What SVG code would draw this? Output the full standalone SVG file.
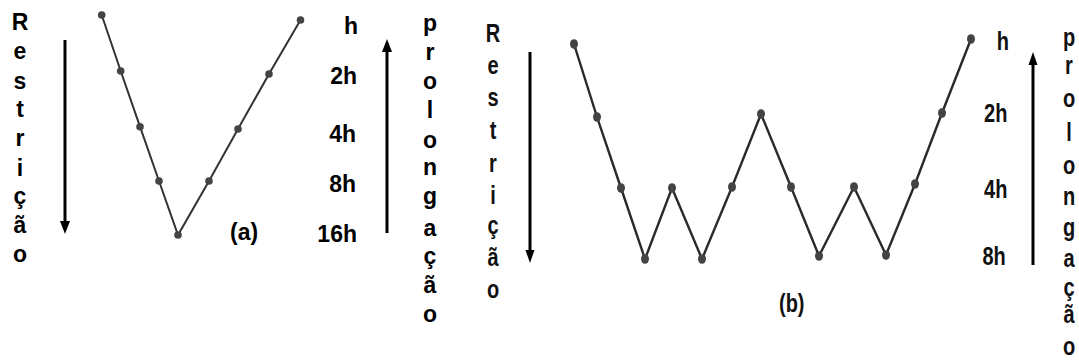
<svg xmlns="http://www.w3.org/2000/svg" width="1079" height="362" viewBox="0 0 1079 362">
<style>
.t{font-family:"Liberation Sans",Arial,sans-serif;font-weight:bold;font-size:23px;fill:#000}
.tb{font-family:"Liberation Sans",Arial,sans-serif;font-weight:bold;font-size:25px;fill:#111}
.ln{fill:none;stroke:#333;stroke-width:2}
.lnb{fill:none;stroke:#2a2a2a;stroke-width:2.4}
.da{fill:#444}
.ar{stroke:#000;stroke-width:3;fill:none}
</style>
<rect width="1079" height="362" fill="#fff"/>

<g id="connectors">
<polyline class="ln" points="101.7,15 120.7,71 140,126.7 159,181 178,235 209,181 238,129 269,74 300.5,20"/>
<polyline class="lnb" points="574,44 597,117 621,188 645,259 672,188 702,259 732,187 761,114 791,187 819,256 854,187 886,255 915,184 942,113 971,39"/>
<g id="arrows">
<line class="ar" x1="65" y1="40" x2="65" y2="222"/>
<path d="M60,221 L70,221 L65,234 Z" fill="#000"/>
<line class="ar" x1="387" y1="233" x2="387" y2="50"/>
<path d="M382,52 L392,52 L387,39 Z" fill="#000"/>
<line class="ar" x1="530" y1="52" x2="530" y2="252"/>
<path d="M525.5,250 L534.5,250 L530,263 Z" fill="#000"/>
<line class="ar" x1="1033" y1="265" x2="1033" y2="63"/>
<path d="M1028.5,65 L1037.5,65 L1033,52 Z" fill="#000"/>
</g>
</g>

<g id="panel-a-dots" class="da">
<circle id="a1" cx="101.7" cy="15" r="3.8"/>
<circle id="a2" cx="120.7" cy="71" r="3.8"/>
<circle id="a3" cx="140" cy="126.7" r="3.8"/>
<circle id="a4" cx="159" cy="181" r="3.8"/>
<circle id="a5" cx="178" cy="235" r="3.8"/>
<circle id="a6" cx="209" cy="181" r="3.8"/>
<circle id="a7" cx="238" cy="129" r="3.8"/>
<circle id="a8" cx="269" cy="74" r="3.8"/>
<circle id="a9" cx="300.5" cy="20" r="3.8"/>
</g>

<g id="panel-b-dots" class="da">
<ellipse id="b1" cx="574" cy="44" rx="4" ry="4.8"/>
<ellipse id="b2" cx="597" cy="117" rx="4" ry="4.8"/>
<ellipse id="b3" cx="621" cy="188" rx="4" ry="4.8"/>
<ellipse id="b4" cx="645" cy="259" rx="4" ry="4.8"/>
<ellipse id="b5" cx="672" cy="188" rx="4" ry="4.8"/>
<ellipse id="b6" cx="702" cy="259" rx="4" ry="4.8"/>
<ellipse id="b7" cx="732" cy="187" rx="4" ry="4.8"/>
<ellipse id="b8" cx="761" cy="114" rx="4" ry="4.8"/>
<ellipse id="b9" cx="791" cy="187" rx="4" ry="4.8"/>
<ellipse id="b10" cx="819" cy="256" rx="4" ry="4.8"/>
<ellipse id="b11" cx="854" cy="187" rx="4" ry="4.8"/>
<ellipse id="b12" cx="886" cy="255" rx="4" ry="4.8"/>
<ellipse id="b13" cx="915" cy="184" rx="4" ry="4.8"/>
<ellipse id="b14" cx="942" cy="113" rx="4" ry="4.8"/>
<ellipse id="b15" cx="971" cy="39" rx="4" ry="4.8"/>
</g>

<g id="label-a-restricao">
<text class="t" text-anchor="middle"><tspan x="20" y="30">R</tspan><tspan x="20" y="59">e</tspan><tspan x="20" y="89">s</tspan><tspan x="20" y="117">t</tspan><tspan x="20" y="146">r</tspan><tspan x="20" y="176">i</tspan><tspan x="20" y="204">ç</tspan><tspan x="20" y="233">ã</tspan><tspan x="20" y="262">o</tspan></text>
</g>
<g id="label-a-prolongacao">
<text class="t" text-anchor="middle"><tspan x="430" y="31">p</tspan><tspan x="430" y="60">r</tspan><tspan x="430" y="89">o</tspan><tspan x="430" y="118">l</tspan><tspan x="430" y="148">o</tspan><tspan x="430" y="175">n</tspan><tspan x="430" y="204">g</tspan><tspan x="430" y="236">a</tspan><tspan x="430" y="264">ç</tspan><tspan x="430" y="293">ã</tspan><tspan x="430" y="322">o</tspan></text>
</g>
<g id="label-a-scale">
<text class="t" text-anchor="end"><tspan x="358" y="34">h</tspan><tspan x="357" y="84">2h</tspan><tspan x="356" y="142">4h</tspan><tspan x="356" y="192">8h</tspan><tspan x="357" y="242">16h</tspan></text>
</g>
<g id="label-a">
<text class="t" x="230" y="240">(a)</text>
</g>

<g id="label-b-restricao" transform="translate(493 0) scale(0.8 1)">
<text class="tb" text-anchor="middle"><tspan x="0" y="42">R</tspan><tspan x="0" y="74">e</tspan><tspan x="0" y="106">s</tspan><tspan x="0" y="139">t</tspan><tspan x="0" y="172">r</tspan><tspan x="0" y="204">i</tspan><tspan x="0" y="234">ç</tspan><tspan x="0" y="266">ã</tspan><tspan x="0" y="298">o</tspan></text>
</g>
<g id="label-b-prolongacao" transform="translate(1069 0) scale(0.8 1)">
<text class="tb" text-anchor="middle"><tspan x="0" y="46">p</tspan><tspan x="0" y="74">r</tspan><tspan x="0" y="107">o</tspan><tspan x="0" y="141">l</tspan><tspan x="0" y="174">o</tspan><tspan x="0" y="205">n</tspan><tspan x="0" y="236">g</tspan><tspan x="0" y="267">a</tspan><tspan x="0" y="296">ç</tspan><tspan x="0" y="323">ã</tspan><tspan x="0" y="355">o</tspan></text>
</g>
<g id="label-b-scale" transform="translate(1009 0) scale(0.8 1)">
<text class="tb" text-anchor="end"><tspan x="0" y="50">h</tspan><tspan x="-2" y="122">2h</tspan><tspan x="-2" y="198">4h</tspan><tspan x="-4" y="265">8h</tspan></text>
</g>
<g id="label-b" transform="translate(779 312) scale(0.8 1)">
<text class="tb" x="0" y="0">(b)</text>
</g>
</svg>
